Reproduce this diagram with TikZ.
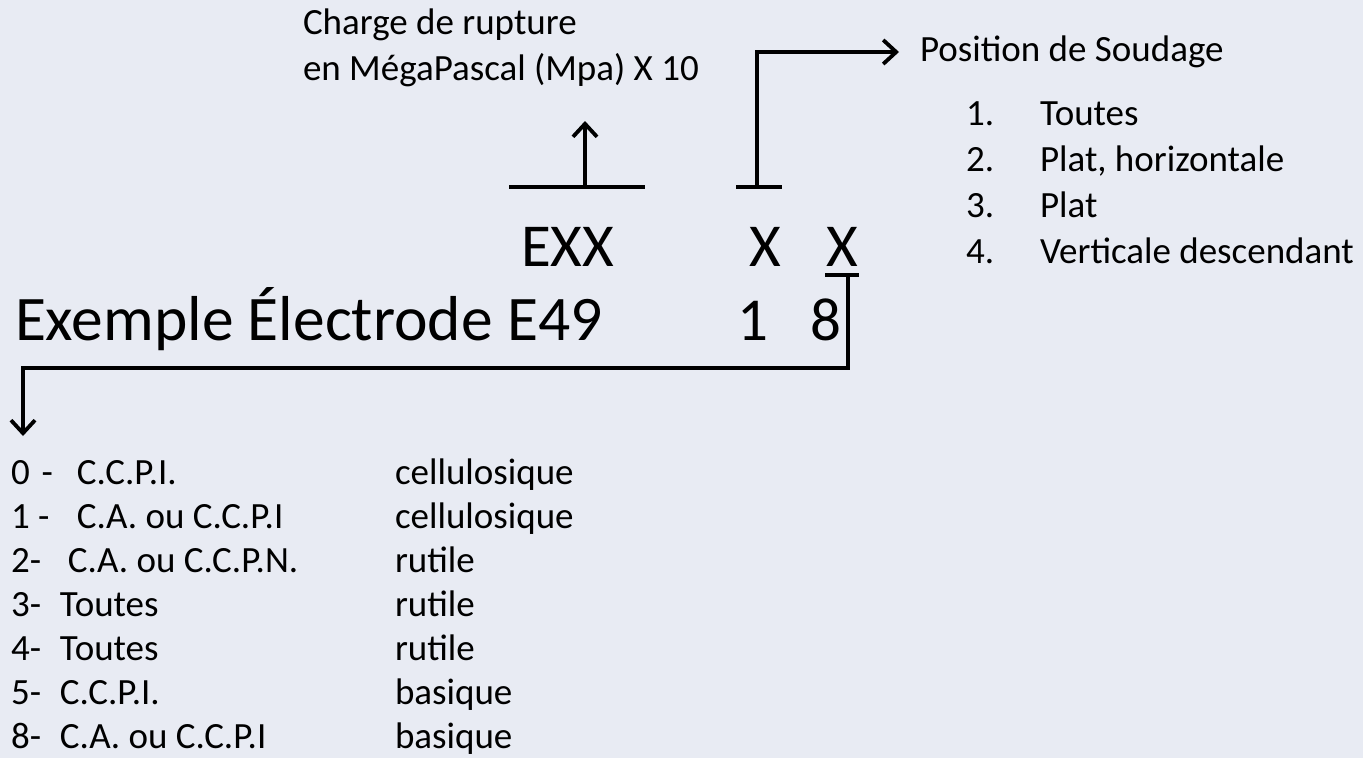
\documentclass[tikz,border=0pt]{standalone}
\usepackage{fontspec}
\setmainfont{Carlito}
\usetikzlibrary{arrows.meta}
\definecolor{bgcol}{RGB}{232,235,243}
\begin{document}
\begin{tikzpicture}[x=1pt,y=-1pt,
  txt/.style={anchor=base west,inner sep=0pt,outer sep=0pt,font=\fontsize{37}{44}\selectfont},
  big/.style={anchor=base west,inner sep=0pt,outer sep=0pt,font=\fontsize{61}{70}\selectfont},
  bigger/.style={anchor=base west,inner sep=0pt,outer sep=0pt,font=\fontsize{63.5}{72}\selectfont},
  ln/.style={line width=3.8pt},
  arr/.style={ln,-{Straight Barb[length=13pt,width=24pt,line width=3.8pt]}}]
\fill[bgcol] (0,0) rectangle (1363,758);
\useasboundingbox (0,0) rectangle (1363,758);

% top left label
\node[txt] (charge1) at (303,34) {Charge de rupture};
\node[txt] (charge2) at (303,80) {en MégaPascal (Mpa) X 10};

% position label and list
\node[txt] (pos) at (920,61) {Position de Soudage};
\node[txt] (n1) at (966,125) {1.};
\node[txt] (t1) at (1040,125) {Toutes};
\node[txt] (n2) at (966,171) {2.};
\node[txt] (t2) at (1040,171) {Plat, horizontale};
\node[txt] (n3) at (966,217) {3.};
\node[txt] (t3) at (1040,217) {Plat};
\node[txt] (n4) at (966,263) {4.};
\node[txt] (t4) at (1040,263) {Verticale descendant};

% code line
\node[big] (exx) at (521,266) {EXX};
\node[big] (xa) at (749,266) {X};
\node[big] (xb) at (826,266) {X};
\node[bigger] (ex) at (15,340) {Exemple Électrode E49};
\node[big] (one) at (737,340) {1};
\node[big] (eight) at (810,340) {8};

% bracket under EXX with arrow up
\coordinate (b1l) at (509,187);
\coordinate (b1r) at (645,187);
\coordinate (b1m) at (585,187);
\coordinate (b1t) at (585,121);
\draw[ln] (b1l) -- (b1r);
\draw[arr] (b1m) -- (b1t);

% bracket under first X with arrow to position
\coordinate (b2l) at (736,187);
\coordinate (b2r) at (782,187);
\coordinate (b2m) at (757,187);
\coordinate (b2c) at (757,52);
\coordinate (b2e) at (899,52);
\draw[ln] (b2l) -- (b2r);
\draw[arr] (b2m) -- (b2c) -- (b2e);

% underline second X with arrow down-left
\coordinate (b3l) at (825,275);
\coordinate (b3r) at (859,275);
\coordinate (b3m) at (848,275);
\coordinate (b3c) at (848,368);
\coordinate (b3d) at (23,368);
\coordinate (b3e) at (23,436);
\draw[ln] (b3l) -- (b3r);
\draw[arr] (b3m) -- (b3c) -- (b3d) -- (b3e);

% table rows
\node[txt] (r0a) at (11,484) {\makebox[66pt][l]{0\hspace{12pt}-}C.C.P.I.};
\node[txt] (r0b) at (395,484) {cellulosique};
\node[txt] (r1a) at (11,528) {\makebox[66pt][l]{1 -}C.A. ou C.C.P.I};
\node[txt] (r1b) at (395,528) {cellulosique};
\node[txt] (r2a) at (11,572) {\makebox[57pt][l]{2-}C.A. ou C.C.P.N.};
\node[txt] (r2b) at (395,572) {rutile};
\node[txt] (r3a) at (11,616) {\makebox[49pt][l]{3-}Toutes};
\node[txt] (r3b) at (395,616) {rutile};
\node[txt] (r4a) at (11,660) {\makebox[49pt][l]{4-}Toutes};
\node[txt] (r4b) at (395,660) {rutile};
\node[txt] (r5a) at (11,704) {\makebox[49pt][l]{5-}C.C.P.I.};
\node[txt] (r5b) at (395,704) {basique};
\node[txt] (r8a) at (11,748) {\makebox[49pt][l]{8-}C.A. ou C.C.P.I};
\node[txt] (r8b) at (395,748) {basique};
\end{tikzpicture}
\end{document}
